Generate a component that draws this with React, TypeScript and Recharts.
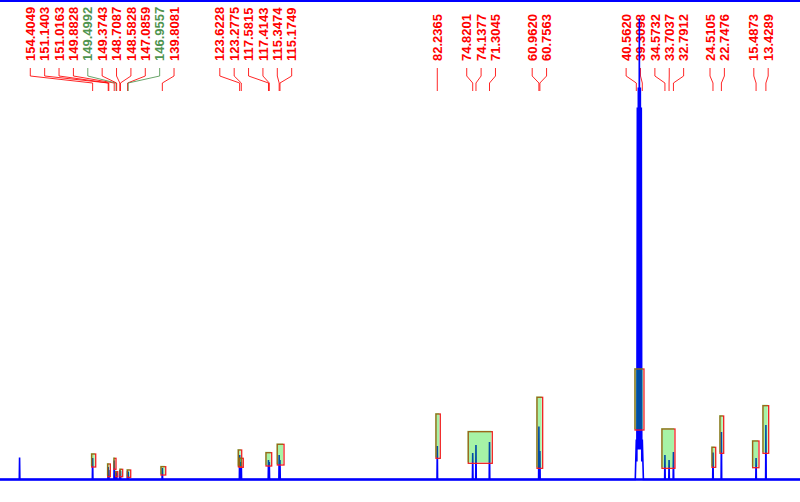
import React from "react";
import {
  ComposedChart,
  Line,
  XAxis,
  YAxis,
  ReferenceLine,
  ReferenceArea,
  ReferenceDot,
} from "recharts";

// ---- axis ranges (ppm, intensity in arbitrary units) ----
const ppmDomain: [number, number] = [6.29, 173.8];
const intensityDomain: [number, number] = [-22.5, 479.5];

// ---- picked peaks ----
const peakPpm = [
  169.7, 154.4049, 151.1403, 151.0163, 149.8828, 149.4992, 149.3743, 148.7087,
  148.5828, 147.0859, 146.9557, 139.8081, 123.6228, 123.2775, 117.5815,
  117.4143, 115.3474, 115.1749, 82.2365, 74.8201, 74.1377, 71.3045, 60.962,
  60.7563, 34.5732, 33.7037, 32.7912, 24.5105, 22.7476, 15.4873, 13.4289,
];
const peakIntensity = [
  22, 21.5, 12.5, 9.5, 19, 7.5, 6.5, 9.5, 8.5, 8.5, 7.5, 11.5, 24.5, 17.5, 19.5,
  17.5, 24.5, 19.5, 33.5, 26.5, 34.5, 37.5, 53, 28.5, 24.5, 19.5, 27.5, 27,
  47.5, 21.5, 54.5,
];

// ---- solvent multiplet (DMSO) ----
const solventPpm = [
  40.78, 40.562, 40.45, 40.35, 40.25, 40.14, 40.04, 39.93, 39.83, 39.72, 39.62,
  39.52, 39.42, 39.3098, 39.08,
];
const solventIntensity = [
  0, 40, 18, 372, 30, 392, 30, 461, 30, 392, 30, 372, 18, 40, 0,
];

// ---- peak labels ----
const labelPpm = [
  154.4049, 151.1403, 151.0163, 149.8828, 149.4992, 149.3743, 148.7087,
  148.5828, 147.0859, 146.9557, 139.8081, 123.6228, 123.2775, 117.5815,
  117.4143, 115.3474, 115.1749, 82.2365, 74.8201, 74.1377, 71.3045, 60.962,
  60.7563, 40.562, 39.3098, 34.5732, 33.7037, 32.7912, 24.5105, 22.7476,
  15.4873, 13.4289,
];
const greenLabelPpm = [149.4992, 146.9557];

// ---- integration / peak boxes ----
const boxFromPpm = [
  154.6, 151.25, 149.93, 149.57, 148.67, 147.14, 140.09, 123.9, 123.69, 118.1,
  115.74, 82.51, 75.75, 61.36, 40.84, 35.19, 24.72, 23.04, 16.2, 14.04,
];
const boxToPpm = [
  153.76, 150.7, 149.51, 149.15, 148.11, 146.43, 139.1, 123.19, 122.86, 116.91,
  114.33, 81.61, 70.72, 60.17, 38.96, 32.47, 23.94, 22.27, 14.88, 12.85,
];
const boxLow = [
  12.5, 2.8, 10.2, 2.8, 2.8, 2.2, 4.5, 12.8, 12.2, 13.5, 14.5, 21.2, 16.2, 11.2,
  49.5, 11.2, 12.2, 26.2, 11.8, 26.2,
];
const boxHigh = [
  25.5, 15.5, 21.2, 7.8, 10.2, 9.5, 12.8, 29.5, 21.2, 26.8, 35.2, 65.5, 47.8,
  82.2, 110.5, 50.5, 32.2, 63.5, 38.5, 73.8,
];

// ---- layout constants ----
const LABEL_GAP = 3.01; // ppm between neighbouring labels
const MAX_OVERHANG = 2.45; // ppm a label group may run past its last peak
const PEAK_HALF_WIDTH = 0.06;
const LABEL_BASE = 418.5;
const CONN_Y = [411.5, 403.5, 396.5, 388.5];
const TOP_FRAME = 478.5;

const RED = "#ff0000";
const GREEN = "#4f944f";
const BLUE = "#0000ff";

// build spectrum polyline from peak list
const spectrum: { ppm: number; v: number }[] = [];
spectrum.push({ ppm: ppmDomain[1], v: 0 }, { ppm: ppmDomain[0], v: 0 });
peakPpm.forEach((p, i) => {
  spectrum.push({ ppm: p + PEAK_HALF_WIDTH, v: 0 });
  spectrum.push({ ppm: p, v: peakIntensity[i] });
  spectrum.push({ ppm: p - PEAK_HALF_WIDTH, v: 0 });
});
solventPpm.forEach((p, i) => spectrum.push({ ppm: p, v: solventIntensity[i] }));
spectrum.sort((a, b) => b.ppm - a.ppm);

// label de-overlap: groups centred on the mid-point of their extreme peaks;
// after grouping, a group may not overhang its last (lowest-ppm) peak too far
function layoutLabels(ppms: number[], gap: number): number[] {
  type G = { a: number; b: number };
  const groups: G[] = ppms.map((_, i) => ({ a: i, b: i }));
  const half = (g: G) => ((g.b - g.a) * gap) / 2;
  const center = (g: G) => (ppms[g.a] + ppms[g.b]) / 2;
  let merged = true;
  while (merged) {
    merged = false;
    for (let i = 0; i < groups.length - 1; i++) {
      const g1 = groups[i];
      const g2 = groups[i + 1];
      if (center(g1) - half(g1) - (center(g2) + half(g2)) < gap - 1e-6) {
        groups.splice(i, 2, { a: g1.a, b: g2.b });
        merged = true;
        break;
      }
    }
  }
  const out: number[] = new Array(ppms.length);
  groups.forEach((g) => {
    let c = center(g);
    const last = c - half(g);
    const minLast = ppms[g.b] - MAX_OVERHANG;
    if (last < minLast) c += minLast - last;
    const top = c + half(g);
    for (let k = g.a; k <= g.b; k++) out[k] = top - (k - g.a) * gap;
  });
  return out;
}

const labelPos = layoutLabels(labelPpm, LABEL_GAP);

const BoxShape = (p: any) => {
  const { x, y, width, height } = p;
  if (x == null || y == null) return null;
  return (
    <g>
      <rect
        x={x}
        y={y}
        width={width}
        height={height}
        fill="none"
        stroke="#f02020"
        strokeWidth={1.3}
      />
      <rect
        x={x - 1}
        y={y - 1}
        width={width}
        height={height}
        fill="rgb(0,220,0)"
        fillOpacity={0.35}
        stroke="none"
      />
    </g>
  );
};

export default function App() {
  return (
    <div
      style={{
        position: "absolute",
        left: 0,
        top: 0,
        width: 800,
        height: 502,
        background: "#ffffff",
      }}
    >
      <ComposedChart
        width={800}
        height={502}
        data={spectrum}
        margin={{ top: 0, right: 0, bottom: 0, left: 0 }}
      >
        <XAxis
          type="number"
          dataKey="ppm"
          domain={ppmDomain}
          reversed
          hide
          allowDataOverflow
        />
        <YAxis type="number" domain={intensityDomain} hide allowDataOverflow />

        {labelPpm.map((p, i) => {
          const col = greenLabelPpm.includes(p) ? GREEN : RED;
          const lx = labelPos[i];
          const segs = [
            [lx, CONN_Y[0], lx, CONN_Y[1]],
            [lx, CONN_Y[1], p, CONN_Y[2]],
            [p, CONN_Y[2], p, CONN_Y[3]],
          ];
          return segs.map((s, j) => (
            <ReferenceLine
              key={`c${i}-${j}`}
              segment={[
                { x: s[0], y: s[1] },
                { x: s[2], y: s[3] },
              ]}
              stroke={col}
              strokeWidth={1}
              strokeOpacity={0.85}
              ifOverflow="visible"
              zIndex={300}
            />
          ));
        })}

        {labelPpm.map((p, i) => {
          const col = greenLabelPpm.includes(p) ? GREEN : RED;
          const txt = p.toFixed(4);
          return (
            <ReferenceDot
              key={`l${i}`}
              x={labelPos[i]}
              y={LABEL_BASE}
              r={0}
              ifOverflow="visible"
              zIndex={300}
              shape={(d: any) => (
                <text
                  x={d.cx}
                  y={d.cy}
                  dy="0.36em"
                  transform={`rotate(-90 ${d.cx} ${d.cy})`}
                  fill={col}
                  fontSize={13}
                  fontWeight="bold"
                  fontFamily="'Liberation Sans', Arial, sans-serif"
                  textAnchor="start"
                >
                  {txt}
                </text>
              )}
            />
          );
        })}

        <ReferenceLine y={0} stroke={BLUE} strokeWidth={2.5} zIndex={390} />
        <ReferenceLine y={TOP_FRAME} stroke={BLUE} strokeWidth={2} zIndex={390} />

        <Line
          type="linear"
          dataKey="v"
          stroke={BLUE}
          strokeWidth={1.6}
          dot={false}
          activeDot={false}
          isAnimationActive={false}
          zIndex={400}
        />

        {boxFromPpm.map((f, i) => (
          <ReferenceArea
            key={`b${i}`}
            x1={f}
            x2={boxToPpm[i]}
            y1={boxLow[i]}
            y2={boxHigh[i]}
            shape={BoxShape}
            zIndex={500}
          />
        ))}
      </ComposedChart>
    </div>
  );
}
